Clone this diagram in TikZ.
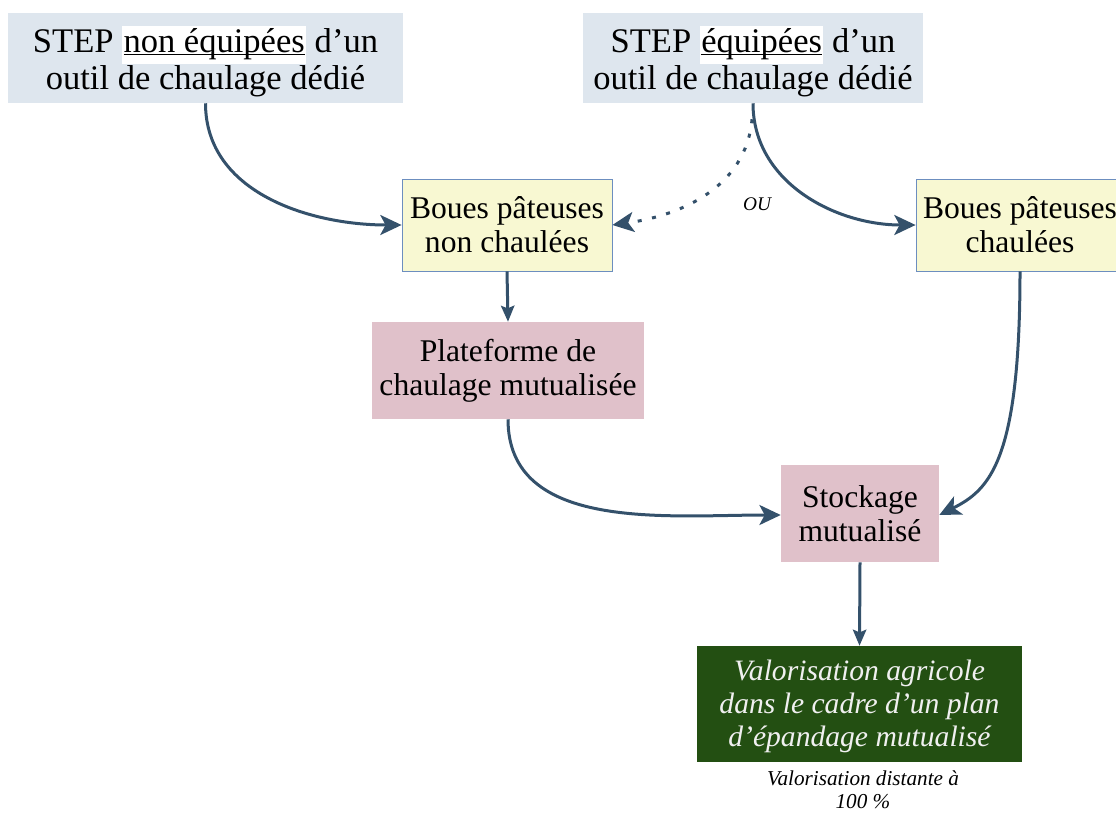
\documentclass[tikz,border=0pt]{standalone}
\usepackage{fontspec}
\setmainfont{Liberation Serif}
\usetikzlibrary{arrows.meta,calc}
\definecolor{topfill}{HTML}{DEE6EE}
\definecolor{yelfill}{HTML}{F8F8D2}
\definecolor{yeldraw}{HTML}{6C8EBF}
\definecolor{pinkfill}{HTML}{E0C1CA}
\definecolor{greenfill}{HTML}{234F12}
\definecolor{arrowcol}{HTML}{34516B}
\setlength{\fboxsep}{1pt}
\newcommand{\hlul}[1]{\colorbox{white}{\strut\underline{\smash{#1}}}}
\tikzset{
  topbox/.style={rectangle,fill=topfill,inner sep=0pt,align=center,minimum height=67.5pt,
    font=\fontsize{25.9}{27}\selectfont},
  yelbox/.style={rectangle,fill=yelfill,draw=yeldraw,line width=0.6pt,inner sep=0pt,align=center,
    minimum height=69pt,font=\fontsize{23.7}{25.5}\selectfont},
  pinkbox/.style={rectangle,fill=pinkfill,inner sep=0pt,align=center,minimum height=72.75pt,
    font=\fontsize{23.7}{25.5}\selectfont},
  greenbox/.style={rectangle,fill=greenfill,inner sep=0pt,align=center,minimum height=87pt,
    text=white!94!black,font=\itshape\fontsize{22.2}{24.75}\selectfont},
  smalllabel/.style={inner sep=0pt,align=center,font=\itshape\fontsize{15.9}{17}\selectfont},
  flow/.style={draw=arrowcol,line width=2.25pt,-{Stealth[length=16pt,width=15pt,inset=4pt]}},
  shortflow/.style={draw=arrowcol,line width=2.25pt,-{Stealth[length=12pt,width=10pt,inset=2pt]}},
  dotflow/.style={flow,dash pattern=on 3pt off 8pt}
}
\begin{document}
\begin{tikzpicture}[x=0.75pt,y=-0.75pt]
\useasboundingbox (0,0) rectangle (1116,813);
\clip (0,0) rectangle (1116,813);
\node[topbox,minimum width=296.25pt] (tl) at (205.5,58)
  {\rule{0pt}{25pt}STEP \hlul{non équipées} d’un\\outil de chaulage dédié};
\node[topbox,minimum width=255pt] (tr) at (753,58)
  {\rule{0pt}{25pt}STEP \hlul{équipées} d’un\\outil de chaulage dédié};
\node[yelbox,minimum width=157.5pt] (bpnc) at (507,225) {Boues pâteuses\\non chaulées};
\node[yelbox,minimum width=156pt] (bpc) at (1020,225) {Boues pâteuses\\chaulées};
\node[pinkbox,minimum width=204pt] (plat) at (508,370.5) {Plateforme de\\chaulage mutualisée};
\node[pinkbox,minimum width=118.5pt] (stock) at (860,513.5) {Stockage\\mutualisé};
\node[greenbox,minimum width=243.75pt] (green) at (859.5,704)
  {\rule{0pt}{19.7pt}Valorisation agricole\\dans le cadre d’un plan\\d’épandage mutualisé};
\node[smalllabel] (dist) at (863,790) {Valorisation distante à\\100 \%};
\node[inner sep=0pt,font=\itshape\fontsize{14.5}{16}\selectfont] (ou) at (757,204) {OU};
\coordinate (dotstart) at ($(tr.south)+(-1,16)$);

\draw[flow] (tl.south) to[out=-90,in=180] (bpnc.west);
\draw[flow] (tr.south) to[out=-90,in=180] (bpc.west);
\draw[dotflow] (dotstart) to[out=-95,in=8] (bpnc.east);
\draw[shortflow] (bpnc.south) -- (plat.north);
\draw[flow] (plat.south) to[out=-90,in=180] ($(stock.west)+(0,1.5)$);
\draw[flow] (bpc.south) .. controls +(0,190) and +(50,-25) .. ($(stock.east)+(0,1.5)$);
\draw[shortflow] (stock.south) -- (green.north);
\end{tikzpicture}
\end{document}
